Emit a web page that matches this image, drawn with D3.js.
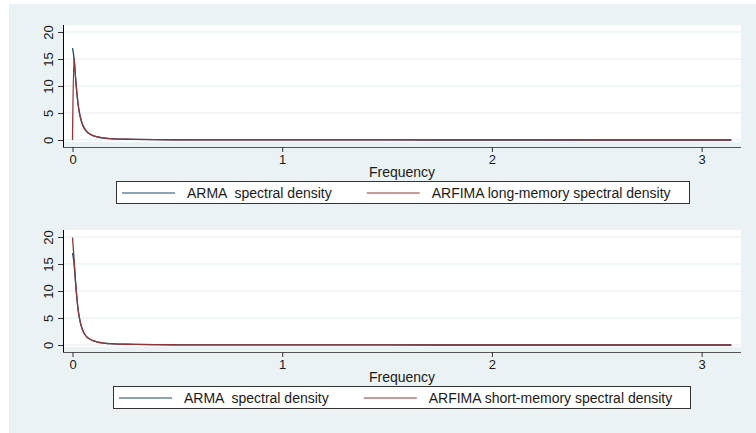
<!DOCTYPE html>
<html>
<head>
<meta charset="utf-8">
<script src="https://cdn.jsdelivr.net/npm/d3@7/dist/d3.min.js"></script>
<style>
  html, body { margin: 0; padding: 0; background: #ffffff; }
  svg { display: block; }
  text { font-family: "Liberation Sans", Arial, Helvetica, sans-serif; fill: #1a1a1a; white-space: pre; }
</style>
</head>
<body>
<svg id="chart" width="756" height="433"></svg>
<script>
// Frequencies (radians) at which the spectral densities are shown
const frequency = [0, 0.007, 0.014, 0.021, 0.028, 0.035, 0.042, 0.05, 0.06, 0.07, 0.08, 0.09,
  0.1, 0.12, 0.14, 0.16, 0.18, 0.2, 0.25, 0.3, 0.4, 0.5, 0.7, 1.0, 1.5, 2.0, 2.5, 3.1416];

// ARMA spectral density (same in both panels)
const armaDensity = [17.0, 15.2, 11.8, 8.6, 6.2, 4.6, 3.5, 2.6, 1.9, 1.45, 1.15, 0.93,
  0.77, 0.55, 0.41, 0.32, 0.26, 0.21, 0.14, 0.10, 0.06, 0.04, 0.02, 0.01, 0.005, 0.004, 0.003, 0.003];

// ARFIMA long-memory spectral density (top panel)
const arfimaLong = [0, 15.3, 11.9, 8.7, 6.3, 4.7, 3.6, 2.7, 2.0, 1.5, 1.2, 0.96,
  0.8, 0.57, 0.43, 0.34, 0.27, 0.22, 0.15, 0.11, 0.065, 0.045, 0.025, 0.013, 0.007, 0.005, 0.004, 0.004];

// ARFIMA short-memory spectral density (bottom panel)
const arfimaShort = [19.9, 16.2, 12.1, 8.7, 6.2, 4.6, 3.5, 2.6, 1.9, 1.45, 1.15, 0.93,
  0.77, 0.55, 0.41, 0.32, 0.26, 0.21, 0.14, 0.10, 0.06, 0.04, 0.02, 0.01, 0.005, 0.004, 0.003, 0.003];

const xTicks = [0, 1, 2, 3];
const yTicks = [0, 5, 10, 15, 20];
const xTitle = "Frequency";
const armaLabel = "ARMA  spectral density";
const longLabel = "ARFIMA long-memory spectral density";
const shortLabel = "ARFIMA short-memory spectral density";

const NAVY = "#1a476f";
const MAROON = "#90353b";
const BG = "#eaf2f3";
const GRID = "#e4edef";

const svg = d3.select("#chart");

// outer graph region
svg.append("rect").attr("x", 9).attr("y", 4).attr("width", 747).attr("height", 429).attr("fill", BG);

const panels = [
  { top: 0, other: arfimaLong, otherLabel: longLabel },
  { top: 205, other: arfimaShort, otherLabel: shortLabel }
];

const plotLeft = 64, plotRight = 741;
const tickFont = "13px", labelFont = "14px";

panels.forEach(p => {
  const g = svg.append("g").attr("transform", `translate(0,${p.top})`);

  const x = d3.scaleLinear().domain([0, Math.PI]).range([72.5, 731.3]);
  const y = d3.scaleLinear().domain([0, 20]).range([140, 32]);

  // plot region
  g.append("rect").attr("x", plotLeft).attr("y", 25).attr("width", plotRight - plotLeft)
    .attr("height", 117).attr("fill", "#ffffff");

  // horizontal gridlines
  g.append("g").selectAll("line").data(yTicks).join("line")
    .attr("x1", plotLeft).attr("x2", plotRight)
    .attr("y1", d => y(d)).attr("y2", d => y(d))
    .attr("stroke", GRID).attr("stroke-width", 1);

  // y axis
  const yAxis = g.append("g").attr("transform", "translate(63,0)")
    .call(d3.axisLeft(y).tickValues(yTicks).tickSize(5));
  yAxis.select(".domain").attr("d", `M0.5,25V147.5`).attr("stroke", "#000");
  yAxis.selectAll(".tick line").attr("stroke", "#333");
  yAxis.selectAll(".tick text")
    .attr("transform", "rotate(-90)")
    .attr("x", 0).attr("y", -10)
    .attr("dy", "0")
    .attr("text-anchor", "middle")
    .style("font-size", tickFont)
    .style("font-family", "'Liberation Sans', Arial, sans-serif")
    .attr("fill", "#1a1a1a");

  // x axis
  const xAxis = g.append("g").attr("transform", "translate(0,147)")
    .call(d3.axisBottom(x).tickValues(xTicks).tickSize(5).tickPadding(3).tickFormat(d3.format("d")));
  xAxis.select(".domain").attr("d", `M63,0.5H${plotRight}`).attr("stroke", "#555");
  xAxis.selectAll(".tick line").attr("stroke", "#333");
  xAxis.selectAll(".tick text")
    .style("font-size", tickFont)
    .style("font-family", "'Liberation Sans', Arial, sans-serif")
    .attr("fill", "#1a1a1a");

  // x title
  g.append("text").attr("x", 402).attr("y", 177).attr("text-anchor", "middle")
    .style("font-size", labelFont).text(xTitle);

  // series
  const line = vals => d3.line()
    .x((d, i) => x(frequency[i]))
    .y(d => y(d))
    .curve(d3.curveMonotoneX)(vals);

  g.append("path").attr("d", line(armaDensity)).attr("fill", "none")
    .attr("stroke", NAVY).attr("stroke-width", 1.3);
  g.append("path").attr("d", line(p.other)).attr("fill", "none")
    .attr("stroke", MAROON).attr("stroke-width", 1.3);

  // legend
  const lg = g.append("g");
  const boxTop = 181, boxH = 22;
  const items = [
    { label: armaLabel, color: NAVY },
    { label: p.otherLabel, color: MAROON }
  ];
  const itemG = lg.selectAll("g.item").data(items).join("g").attr("class", "item");
  itemG.append("line").attr("class", "key")
    .attr("y1", boxTop + boxH / 2 + 1).attr("y2", boxTop + boxH / 2 + 1)
    .attr("stroke", d => d.color).attr("stroke-width", 1);
  itemG.append("text").attr("class", "lab")
    .attr("y", boxTop + boxH / 2 + 1).attr("dy", "0.35em")
    .style("font-size", labelFont).text(d => d.label);

  // lay out legend items and center the box under the plot
  const keyLen = 53, keyGap = 12, colGap = 35, padL = 6, padR = 18;
  const widths = [];
  itemG.select("text.lab").each(function () { widths.push(this.getComputedTextLength()); });
  const total = padL + keyLen + keyGap + widths[0] + colGap + keyLen + keyGap + widths[1] + padR;
  const left = Math.round(402 - total / 2);
  let cx = left + padL;
  itemG.each(function (d, i) {
    const s = d3.select(this);
    s.select("line.key").attr("x1", cx).attr("x2", cx + keyLen);
    s.select("text.lab").attr("x", cx + keyLen + keyGap);
    cx += keyLen + keyGap + widths[i] + colGap;
  });
  lg.insert("rect", ":first-child").attr("x", left + 0.5).attr("y", boxTop + 0.5)
    .attr("width", Math.round(total)).attr("height", boxH)
    .attr("fill", "#ffffff").attr("stroke", "#333").attr("stroke-width", 1);
});
</script>
</body>
</html>
